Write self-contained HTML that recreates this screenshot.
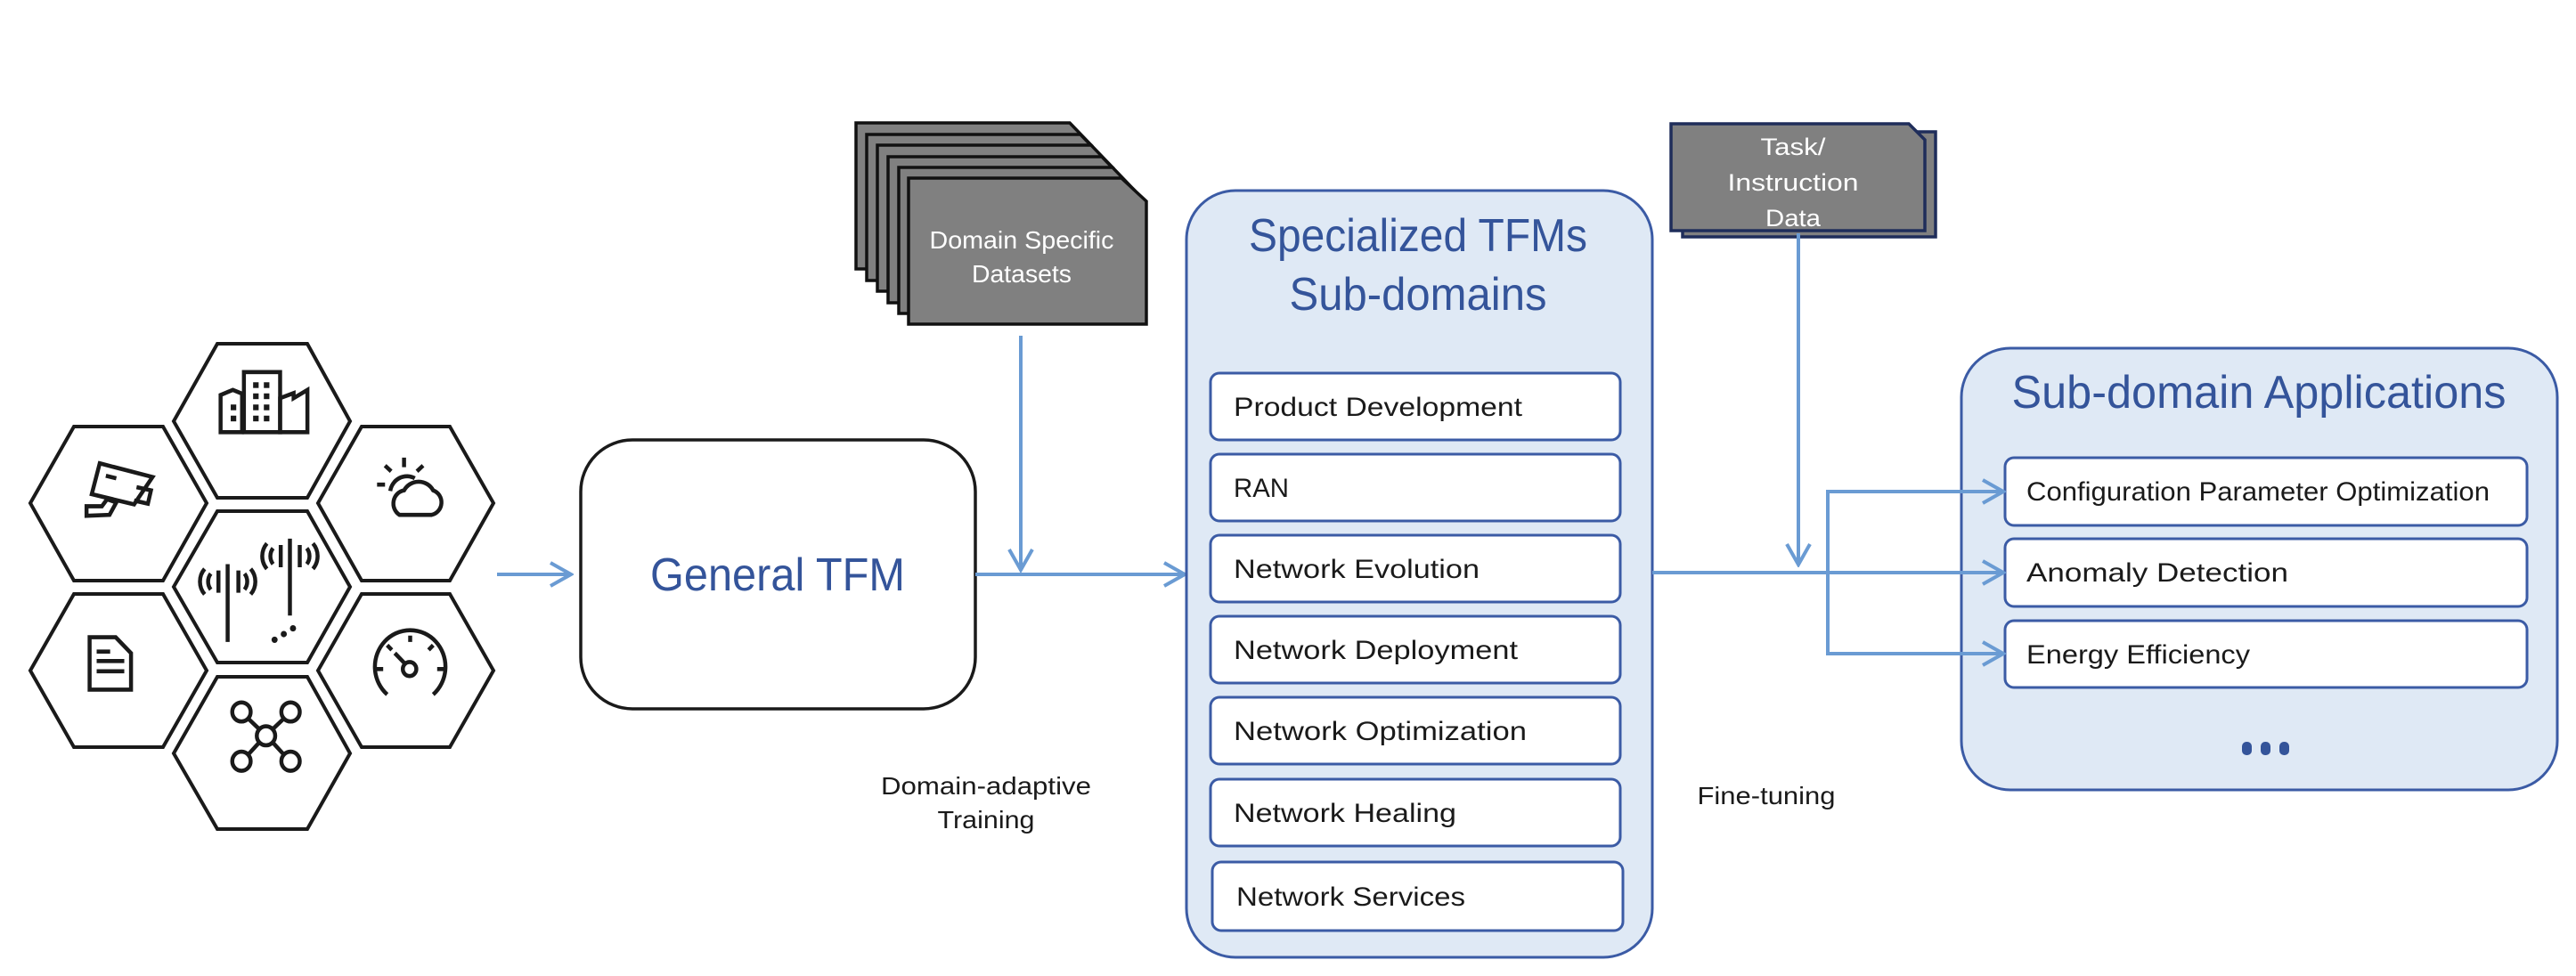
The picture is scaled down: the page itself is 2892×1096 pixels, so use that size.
<!DOCTYPE html>
<html><head><meta charset="utf-8"><style>
html,body{margin:0;padding:0;background:#fff;width:2892px;height:1096px;overflow:hidden}
svg text{font-family:"Liberation Sans",sans-serif}
</style></head><body>
<svg width="2892" height="1096" viewBox="0 0 2892 1096" xmlns="http://www.w3.org/2000/svg">
<defs>
<marker id="ah" markerWidth="30" markerHeight="30" refX="27" refY="15" orient="auto" markerUnits="userSpaceOnUse">
<path d="M4,2 L27,15 L4,28" fill="none" stroke="#6a9bd3" stroke-width="4"/>
</marker>
</defs>
<!-- hexes -->
<g fill="#fff" stroke="#1a1a1a" stroke-width="4">
<polygon points="195,473 244,386 345,386 393,473 345,559 244,559"/>
<polygon points="34,565 83,479 183,479 232,565 183,652 83,652"/>
<polygon points="357,565 406,479 505,479 554,565 505,652 406,652"/>
<polygon points="195,659 244,574 345,574 393,659 345,744 244,744"/>
<polygon points="34,753 83,667 183,667 232,753 183,839 83,839"/>
<polygon points="357,753 406,667 505,667 554,753 505,839 406,839"/>
<polygon points="195,846 244,760 345,760 393,846 345,931 244,931"/>
</g>
<!-- icons in zoom coords -->
<g transform="translate(30,380) scale(0.3444,0.357)" fill="none" stroke="#1a1a1a" stroke-width="13">
<path d="M632,295 V178 L672,162 L702,174 V295 Z"/>
<rect x="708" y="106" width="118" height="189"/>
<path d="M826,295 V188 L870,172 V188 L915,162 V295 Z"/>
<g fill="#1a1a1a" stroke="none">
<rect x="665" y="208" width="18" height="18"/><rect x="665" y="243" width="18" height="18"/>
<rect x="738" y="138" width="18" height="18"/><rect x="773" y="138" width="18" height="18"/>
<rect x="738" y="173" width="18" height="18"/><rect x="773" y="173" width="18" height="18"/>
<rect x="738" y="208" width="18" height="18"/><rect x="773" y="208" width="18" height="18"/>
<rect x="738" y="243" width="18" height="18"/><rect x="773" y="243" width="18" height="18"/>
</g>
<path d="M238,393 L410,436 L350,522 L212,490 Z"/>
<path d="M258,432 L292,440"/>
<path d="M358,468 L405,478 L395,520 L350,510"/>
<path d="M195,558 V528 L245,528 L262,506 L292,516 L270,555 Z"/>
<path d="M1230,375 V405 M1168,400 L1188,418 M1292,400 L1272,418 M1142,460 H1168"/>
<path d="M1265,440 A55,55 0 0 0 1185,480"/>
<path d="M1215,555 H1320 A40,40 0 0 0 1325,478 A55,55 0 0 0 1230,478 A42,42 0 0 0 1215,555 Z"/>
<path d="M655,710 V955 M858,630 V872"/>
<path d="M625,730 V800 M690,730 V800 M828,650 V720 M890,650 V720"/>
<path d="M600,740 A40,40 0 0 0 600,790 M580,725 A60,60 0 0 0 580,805 M710,740 A40,40 0 0 1 710,790 M730,725 A60,60 0 0 1 730,805"/>
<path d="M803,660 A40,40 0 0 0 803,710 M783,645 A60,60 0 0 0 783,725 M913,660 A40,40 0 0 1 913,710 M933,645 A60,60 0 0 1 933,725"/>
<g fill="#1a1a1a" stroke="none"><circle cx="808" cy="948" r="10"/><circle cx="838" cy="930" r="10"/><circle cx="868" cy="912" r="10"/></g>
<path d="M205,940 H290 L340,990 V1105 H205 Z"/>
<path d="M228,985 H272 M228,1015 H318 M228,1047 H318"/>
<path d="M1175,1120 A115,115 0 1 1 1325,1120"/>
<path d="M1250,935 V955 M1140,1040 H1162 M1338,1040 H1360 M1175,965 L1190,980 M1325,965 L1310,980"/>
<circle cx="1248" cy="1040" r="22"/><path d="M1232,1022 L1200,990"/>
<circle cx="700" cy="1175" r="30"/><circle cx="860" cy="1175" r="30"/><circle cx="780" cy="1250" r="30"/><circle cx="700" cy="1330" r="30"/><circle cx="860" cy="1330" r="30"/>
<path d="M722,1196 L758,1229 M838,1196 L802,1229 M722,1309 L758,1271 M838,1309 L802,1271"/>
</g>

<!-- General TFM -->
<rect x="652" y="494" width="443" height="302" rx="58" fill="#fff" stroke="#1a1a1a" stroke-width="3.5"/>
<text x="873" y="663" font-size="52" fill="#34549a" text-anchor="middle" textLength="286" lengthAdjust="spacingAndGlyphs">General TFM</text>

<!-- datasets stack -->
<g fill="#808080" stroke="#111" stroke-width="3.5">
<path d="M961,138 H1201 L1226,164 V302 H961 Z"/>
<path d="M973,151 H1213 L1238,177 V315 H973 Z"/>
<path d="M985,163 H1225 L1250,189 V327 H985 Z"/>
<path d="M997,176 H1237 L1262,202 V340 H997 Z"/>
<path d="M1009,188 H1249 L1274,214 V352 H1009 Z"/>
<path d="M1020,200 H1259 L1287,226 V364 H1020 Z"/>
</g>
<text x="1147" y="279" font-size="28" fill="#fff" text-anchor="middle" textLength="207" lengthAdjust="spacingAndGlyphs">Domain Specific</text>
<text x="1147" y="317" font-size="28" fill="#fff" text-anchor="middle" textLength="112" lengthAdjust="spacingAndGlyphs">Datasets</text>

<text x="1107" y="892" font-size="28" fill="#1a1a1a" text-anchor="middle" textLength="236" lengthAdjust="spacingAndGlyphs">Domain-adaptive</text>
<text x="1107" y="930" font-size="28" fill="#1a1a1a" text-anchor="middle" textLength="109" lengthAdjust="spacingAndGlyphs">Training</text>

<!-- arrows left -->
<g stroke="#6a9bd3" stroke-width="4" fill="none">
<line x1="558" y1="645" x2="641" y2="645" marker-end="url(#ah)"/>
<line x1="1095" y1="645" x2="1330" y2="645" marker-end="url(#ah)"/>
<line x1="1146" y1="377" x2="1146" y2="640" marker-end="url(#ah)"/>
</g>

<!-- Specialized panel -->
<rect x="1332" y="214" width="523" height="861" rx="55" fill="#dfe9f5" stroke="#3b5ba5" stroke-width="3"/>
<text x="1592" y="282" font-size="52" fill="#34549a" text-anchor="middle" textLength="380" lengthAdjust="spacingAndGlyphs">Specialized TFMs</text>
<text x="1592" y="348" font-size="52" fill="#34549a" text-anchor="middle" textLength="289" lengthAdjust="spacingAndGlyphs">Sub-domains</text>
<g fill="#fff" stroke="#3b5ba5" stroke-width="3">
<rect x="1359" y="419" width="460" height="75" rx="10"/>
<rect x="1359" y="510" width="460" height="75" rx="10"/>
<rect x="1359" y="601" width="460" height="75" rx="10"/>
<rect x="1359" y="692" width="460" height="75" rx="10"/>
<rect x="1359" y="783" width="460" height="75" rx="10"/>
<rect x="1359" y="875" width="460" height="75" rx="10"/>
<rect x="1361" y="968" width="461" height="77" rx="10"/>
</g>
<g font-size="30" fill="#1a1a1a">
<text x="1385" y="467" textLength="324" lengthAdjust="spacingAndGlyphs">Product Development</text>
<text x="1385" y="558" textLength="62" lengthAdjust="spacingAndGlyphs">RAN</text>
<text x="1385" y="649" textLength="276" lengthAdjust="spacingAndGlyphs">Network Evolution</text>
<text x="1385" y="740" textLength="319" lengthAdjust="spacingAndGlyphs">Network Deployment</text>
<text x="1385" y="831" textLength="329" lengthAdjust="spacingAndGlyphs">Network Optimization</text>
<text x="1385" y="923" textLength="250" lengthAdjust="spacingAndGlyphs">Network Healing</text>
<text x="1388" y="1017" textLength="257" lengthAdjust="spacingAndGlyphs">Network Services</text>
</g>

<!-- Task data -->
<path d="M1889,148 H2173 V266 H1889 Z" fill="#808080" stroke="#1f2d5a" stroke-width="3.5"/>
<path d="M1876,139 H2143 L2161,157 V259 H1876 Z" fill="#808080" stroke="#1f2d5a" stroke-width="3.5"/>
<g font-size="27" fill="#fff" text-anchor="middle">
<text x="2013" y="174" textLength="73" lengthAdjust="spacingAndGlyphs">Task/</text>
<text x="2013" y="214" textLength="147" lengthAdjust="spacingAndGlyphs">Instruction</text>
<text x="2013" y="254" textLength="62" lengthAdjust="spacingAndGlyphs">Data</text>
</g>
<text x="1983" y="903" font-size="28" fill="#1a1a1a" text-anchor="middle" textLength="155" lengthAdjust="spacingAndGlyphs">Fine-tuning</text>

<!-- Apps panel -->
<rect x="2202" y="391" width="669" height="496" rx="55" fill="#dfe9f5" stroke="#3b5ba5" stroke-width="3"/>
<text x="2536" y="458" font-size="52" fill="#34549a" text-anchor="middle" textLength="555" lengthAdjust="spacingAndGlyphs">Sub-domain Applications</text>
<g fill="#fff" stroke="#3b5ba5" stroke-width="3">
<rect x="2251" y="514" width="586" height="76" rx="10"/>
<rect x="2251" y="605" width="586" height="76" rx="10"/>
<rect x="2251" y="697" width="586" height="75" rx="10"/>
</g>
<g font-size="30" fill="#1a1a1a">
<text x="2275" y="562" textLength="520" lengthAdjust="spacingAndGlyphs">Configuration Parameter Optimization</text>
<text x="2275" y="653" textLength="294" lengthAdjust="spacingAndGlyphs">Anomaly Detection</text>
<text x="2275" y="745" textLength="251" lengthAdjust="spacingAndGlyphs">Energy Efficiency</text>
</g>
<g fill="#34549a"><rect x="2517" y="833" width="11" height="15" rx="5"/><rect x="2538" y="833" width="11" height="15" rx="5"/><rect x="2559" y="833" width="11" height="15" rx="5"/></g>

<!-- right arrows -->
<g stroke="#6a9bd3" stroke-width="4" fill="none">
<line x1="2019" y1="262" x2="2019" y2="634" marker-end="url(#ah)"/>
<line x1="1855" y1="643" x2="2249" y2="643" marker-end="url(#ah)"/>
<polyline points="2249,552 2052,552 2052,734 2249,734" stroke-width="0"/>
<line x1="2052" y1="552" x2="2052" y2="734"/>
<line x1="2050" y1="552" x2="2249" y2="552" marker-end="url(#ah)"/>
<line x1="2050" y1="734" x2="2249" y2="734" marker-end="url(#ah)"/>
</g>
</svg>
</body></html>
